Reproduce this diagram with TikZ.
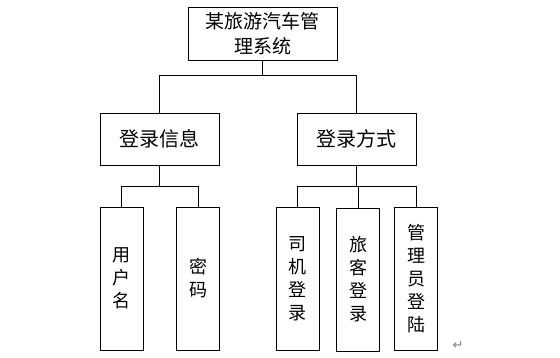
\documentclass[tikz,border=0pt]{standalone}
\usepackage{fontspec}
\usepackage{tikz}
\usetikzlibrary{positioning}
\newfontfamily\cjk{Noto Sans CJK SC}
\newfontfamily\symfont{DejaVu Sans}

\begin{document}
\begin{tikzpicture}[
    x=1pt, y=-1pt,
    box/.style={rectangle, draw, line width=0.9pt, align=center, inner sep=0pt},
    topbox/.style={box, minimum width=149pt, minimum height=53pt, font=\cjk\fontsize{19}{25}\selectfont},
    midbox/.style={box, minimum width=119pt, minimum height=52pt, font=\cjk\fontsize{20}{24}\selectfont},
    leaf/.style={box, minimum width=43pt, minimum height=143pt, font=\cjk\fontsize{18}{23}\selectfont},
    link/.style={line width=0.9pt}
]
\useasboundingbox (0,0) rectangle (560,357);
\node[topbox] (sys) at (262.5,33.5) {某旅游汽车管\\理系统};
\node[midbox] (info) at (159.5,139) {登录信息};
\node[midbox] (way) at (356.5,139) {登录方式};
\node[leaf] (user) at (121.5,278.5) {用\\户\\名};
\node[leaf] (pwd) at (198,278.5) {密\\码};
\node[leaf] (driver) at (297.5,278.5) {司\\机\\登\\录};
\node[leaf] (tourist) at (358,279.5) {旅\\客\\登\\录};
\node[leaf] (admin) at (416,278.5) {管\\理\\员\\登\\陆};
\node[text=gray, font=\symfont\fontsize{13}{13}\selectfont] (mark) at (458,345) {↵};
% tree links
\draw[link] (sys.south) -- ++(0,15) coordinate (b1);
\draw[link] (info.north) |- (b1) -| (way.north);
\draw[link] (info.south) -- ++(0,21) coordinate (b2);
\draw[link] (user.north) |- (b2) -| (pwd.north);
\draw[link] (way.south) -- ++(0,21) coordinate (b3);
\draw[link] (driver.north) |- (b3) -| (admin.north);
\draw[link] (tourist.north) -- (tourist.north |- b3);
\end{tikzpicture}
\end{document}
